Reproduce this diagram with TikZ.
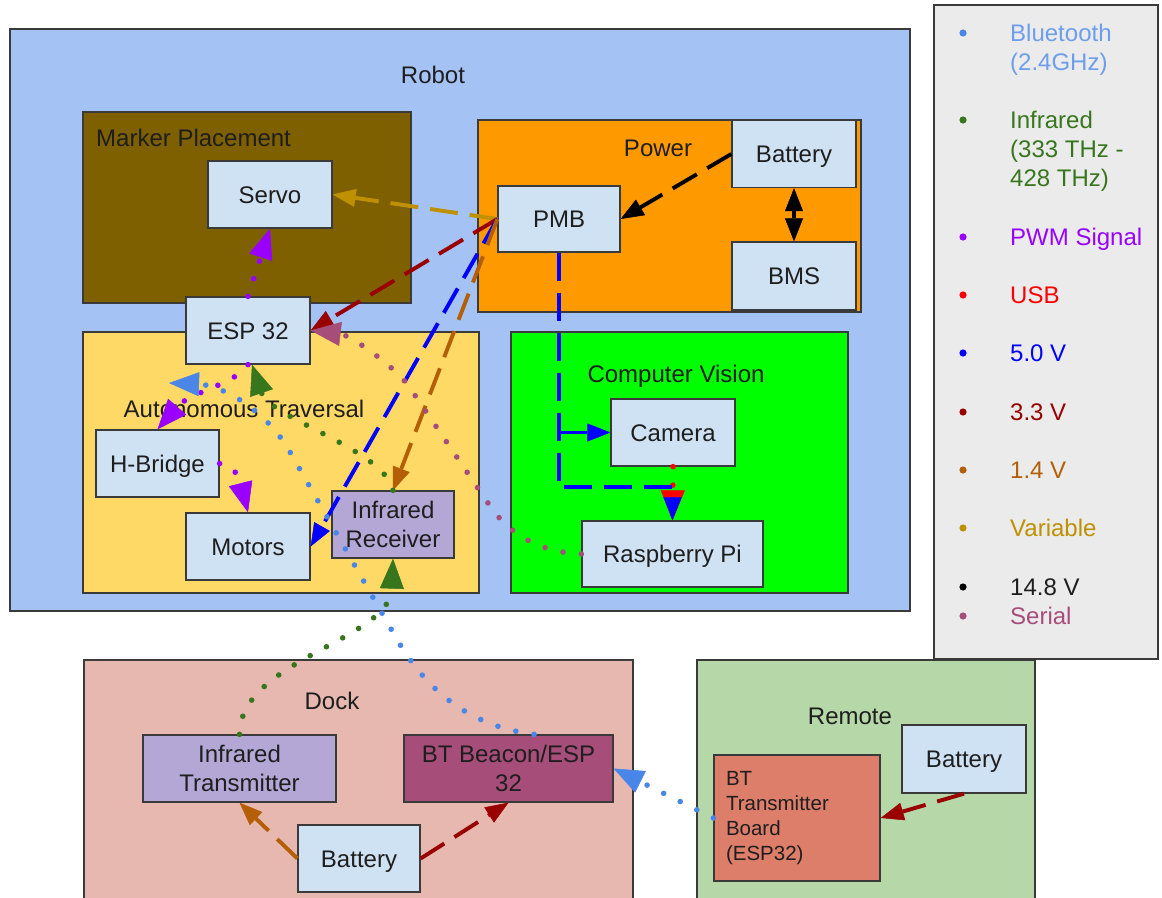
\documentclass[tikz,border=0pt]{standalone}
\usepackage{fontspec}
\setmainfont{Liberation Sans}
\usetikzlibrary{arrows.meta,calc}
\newcommand\lblfont{\fontsize{24}{29}\selectfont}
\newcommand\btxfont{\fontsize{20.5}{25}\selectfont}
\definecolor{robotc}{HTML}{A4C2F4}
\definecolor{markc}{HTML}{7F6000}
\definecolor{powc}{HTML}{FF9900}
\definecolor{autoc}{HTML}{FFD966}
\definecolor{cvc}{HTML}{00FF00}
\definecolor{legc}{HTML}{EBEBEB}
\definecolor{dockc}{HTML}{E6B8AF}
\definecolor{remc}{HTML}{B6D7A8}
\definecolor{nodec}{HTML}{CFE2F3}
\definecolor{irc}{HTML}{B4A7D6}
\definecolor{btbc}{HTML}{A64D79}
\definecolor{bttc}{HTML}{DD7E6B}
\definecolor{bordc}{HTML}{3A3A3A}
\definecolor{txtc}{HTML}{1E1E1E}
\definecolor{btc}{HTML}{4A86E8}
\definecolor{bttxt}{HTML}{6D9EEB}
\definecolor{irlc}{HTML}{38761D}
\definecolor{pwmc}{HTML}{9900FF}
\definecolor{usbc}{HTML}{FF0000}
\definecolor{vfivec}{HTML}{0000FF}
\definecolor{vthreec}{HTML}{990000}
\definecolor{vonec}{HTML}{B45F06}
\definecolor{varc}{HTML}{BF9000}
\definecolor{serc}{HTML}{A64D79}
\begin{document}
\begin{tikzpicture}[x=1pt,y=-1pt,
  area/.style={draw=bordc,line width=1.3pt,inner sep=0pt},
  box/.style={draw=bordc,line width=1.3pt,fill=nodec,inner sep=0pt,align=center,font=\lblfont,text=txtc},
  one/.style={text height=17.2pt,text depth=0pt},
  lbl/.style={inner sep=0pt,font=\lblfont,text=txtc,text height=17.2pt,text depth=0pt},
  dsh/.style={line width=3.9pt,dash pattern=on 28pt off 12pt,-{Triangle[length=23pt,width=18pt,line width=0.5pt]}},
  dtt/.style={line width=5.6pt,dash pattern=on 0pt off 18.5pt,line cap=round,-{Triangle[length=30pt,width=24pt,line width=0.5pt]}},
  legtxt/.style={anchor=north west,inner sep=0pt,font=\lblfont,align=left},
  legdot/.style={radius=3.6pt},
]
\useasboundingbox (0,0) rectangle (1162,897);
% containers
\node[area,fill=robotc,minimum width=900,minimum height=582] (robot) at (460,320) {};
\node[area,fill=markc,minimum width=328,minimum height=191] (marker) at (247,207.5) {};
\node[area,fill=powc,minimum width=383,minimum height=192] (power) at (669.5,216) {};
\node[area,fill=autoc,minimum width=396,minimum height=261] (auto) at (281,462.5) {};
\node[area,fill=cvc,minimum width=337,minimum height=261] (cv) at (679.5,462.5) {};
\node[area,fill=legc,minimum width=224,minimum height=654] (legend) at (1046,332) {};
\node[area,fill=dockc,minimum width=549,minimum height=250] (dock) at (358.5,785) {};
\node[area,fill=remc,minimum width=338,minimum height=250] (remote) at (866,785) {};
% container labels
\node[lbl] (robotl) at (433,75) {Robot};
\node[lbl,anchor=west] (markerl) at (96,138) {Marker Placement};
\node[lbl] (powerl) at (658,148) {Power};
\node[lbl] (cvl) at (676,374) {Computer Vision};
\node[lbl] (autol) at (244,409) {Autonomous Traversal};
\node[lbl] (dockl) at (332,701) {Dock};
\node[lbl] (remotel) at (850,716) {Remote};
% inner nodes
\node[box,one,minimum width=124,minimum height=67] (servo) at (270,194.5) {Servo};
\node[box,one,minimum width=122,minimum height=66] (pmb) at (559,219) {PMB};
\node[box,one,minimum width=124,minimum height=67] (batp) at (794,154) {Battery};
\node[box,one,minimum width=124,minimum height=68] (bms) at (794,276) {BMS};
\node[box,one,minimum width=124,minimum height=67] (esp) at (248,330.5) {ESP 32};
\node[box,one,minimum width=123,minimum height=67] (hb) at (157.5,463.5) {H-Bridge};
\node[box,one,minimum width=124,minimum height=67] (mot) at (248,546.5) {Motors};
\node[box,fill=irc,minimum width=122,minimum height=67] (irr) at (393,524.5) {Infrared\\Receiver};
\node[box,one,minimum width=124,minimum height=67] (cam) at (673,432.5) {Camera};
\node[box,one,minimum width=181,minimum height=66] (rpi) at (672.5,554) {Raspberry Pi};
\node[box,fill=irc,minimum width=193,minimum height=67] (irt) at (239.5,768.5) {Infrared\\Transmitter};
\node[box,fill=btbc,minimum width=209,minimum height=67] (btb) at (508.5,768.5) {BT Beacon/ESP\\32};
\node[box,one,minimum width=122,minimum height=67] (dbat) at (359,858.5) {Battery};
\node[box,fill=bttc,minimum width=166,minimum height=126,text width=142pt,inner xsep=12pt,align=left,font=\btxfont] (btt) at (797,818) {BT\\Transmitter\\Board\\(ESP32)};
\node[box,one,minimum width=124,minimum height=68] (rbat) at (964,759) {Battery};
% connectors
\draw[dtt,usbc] (cam.south) -- (rpi.north);
\draw[dsh,vfivec] (pmb.south) |- ($(rpi.north)+(0,-33)$) -- (rpi.north);
\draw[dsh,vfivec] (pmb.south |- cam.west) -- (cam.west);
\draw[dsh,black] (batp.west) -- (pmb.east);
\draw[line width=3.9pt,{Triangle[length=23pt,width=18pt,line width=0.5pt]}-{Triangle[length=23pt,width=18pt,line width=0.5pt]}] (batp.south) -- (bms.north);
\draw[dsh,varc] (pmb.west) -- (servo.east);
\draw[dsh,vthreec] (pmb.west) -- (esp.east);
\draw[dsh,vfivec] (pmb.west) -- (mot.east);
\draw[dsh,vonec] (pmb.west) -- (irr.north);
\draw[dtt,pwmc] (esp.north) -- (servo.south);
\draw[dtt,pwmc] (esp.south) .. controls (236,384) and (190,392) .. (hb.north);
\draw[dtt,pwmc] (hb.east) .. controls (235,464) and (240,481) .. (mot.north);
\draw[dtt,irlc] (irt.north) .. controls (240,660) and (390,640) .. (irr.south);
\draw[dtt,irlc] (irr.north) .. controls (385,450) and (270,418) .. ($(esp.south)+(4,0)$);
\coordinate (btstart) at ($(btb.north)+(25.5,0)$);
\coordinate (bttip) at (169,383);
\draw[dtt,btc] (btstart) .. controls (460,725) and (420,680) .. (395,636) -- (290,452) .. controls (265,408) and (220,385) .. (bttip);
\draw[dtt,btc] (btt.west) -- (btb.east);
\draw[dtt,serc] (rpi.west) .. controls (530,552) and (503,525) .. (490,506) -- (410,388) .. controls (396,367) and (350,335) .. (esp.east);
\draw[dsh,vonec] (dbat.west) -- (irt.south);
\draw[dsh,vthreec] (dbat.east) -- (btb.south);
\draw[dsh,vthreec] (rbat.south) -- (btt.east);
% legend
\fill[btc,legdot] (963,33) circle;
\node[legtxt,text=bttxt] (lg1) at (1010,24.4) {Bluetooth\\(2.4GHz)};
\fill[irlc,legdot] (963,120) circle;
\node[legtxt,text=irlc] (lg2) at (1010,111.4) {Infrared\\(333 THz -\\428 THz)};
\fill[pwmc,legdot] (963,237) circle;
\node[legtxt,text=pwmc] (lg3) at (1010,228.4) {PWM Signal};
\fill[usbc,legdot] (963,295) circle;
\node[legtxt,text=usbc] (lg4) at (1010,286.4) {USB};
\fill[vfivec,legdot] (963,353) circle;
\node[legtxt,text=vfivec] (lg5) at (1010,344.4) {5.0 V};
\fill[vthreec,legdot] (963,412) circle;
\node[legtxt,text=vthreec] (lg6) at (1010,403.4) {3.3 V};
\fill[vonec,legdot] (963,470) circle;
\node[legtxt,text=vonec] (lg7) at (1010,461.4) {1.4 V};
\fill[varc,legdot] (963,528) circle;
\node[legtxt,text=varc] (lg8) at (1010,519.4) {Variable};
\fill[black,legdot] (963,587) circle;
\node[legtxt,text=txtc] (lg9) at (1010,578.4) {14.8 V};
\fill[serc,legdot] (963,616) circle;
\node[legtxt,text=serc] (lg10) at (1010,607.4) {Serial};
\end{tikzpicture}
\end{document}
